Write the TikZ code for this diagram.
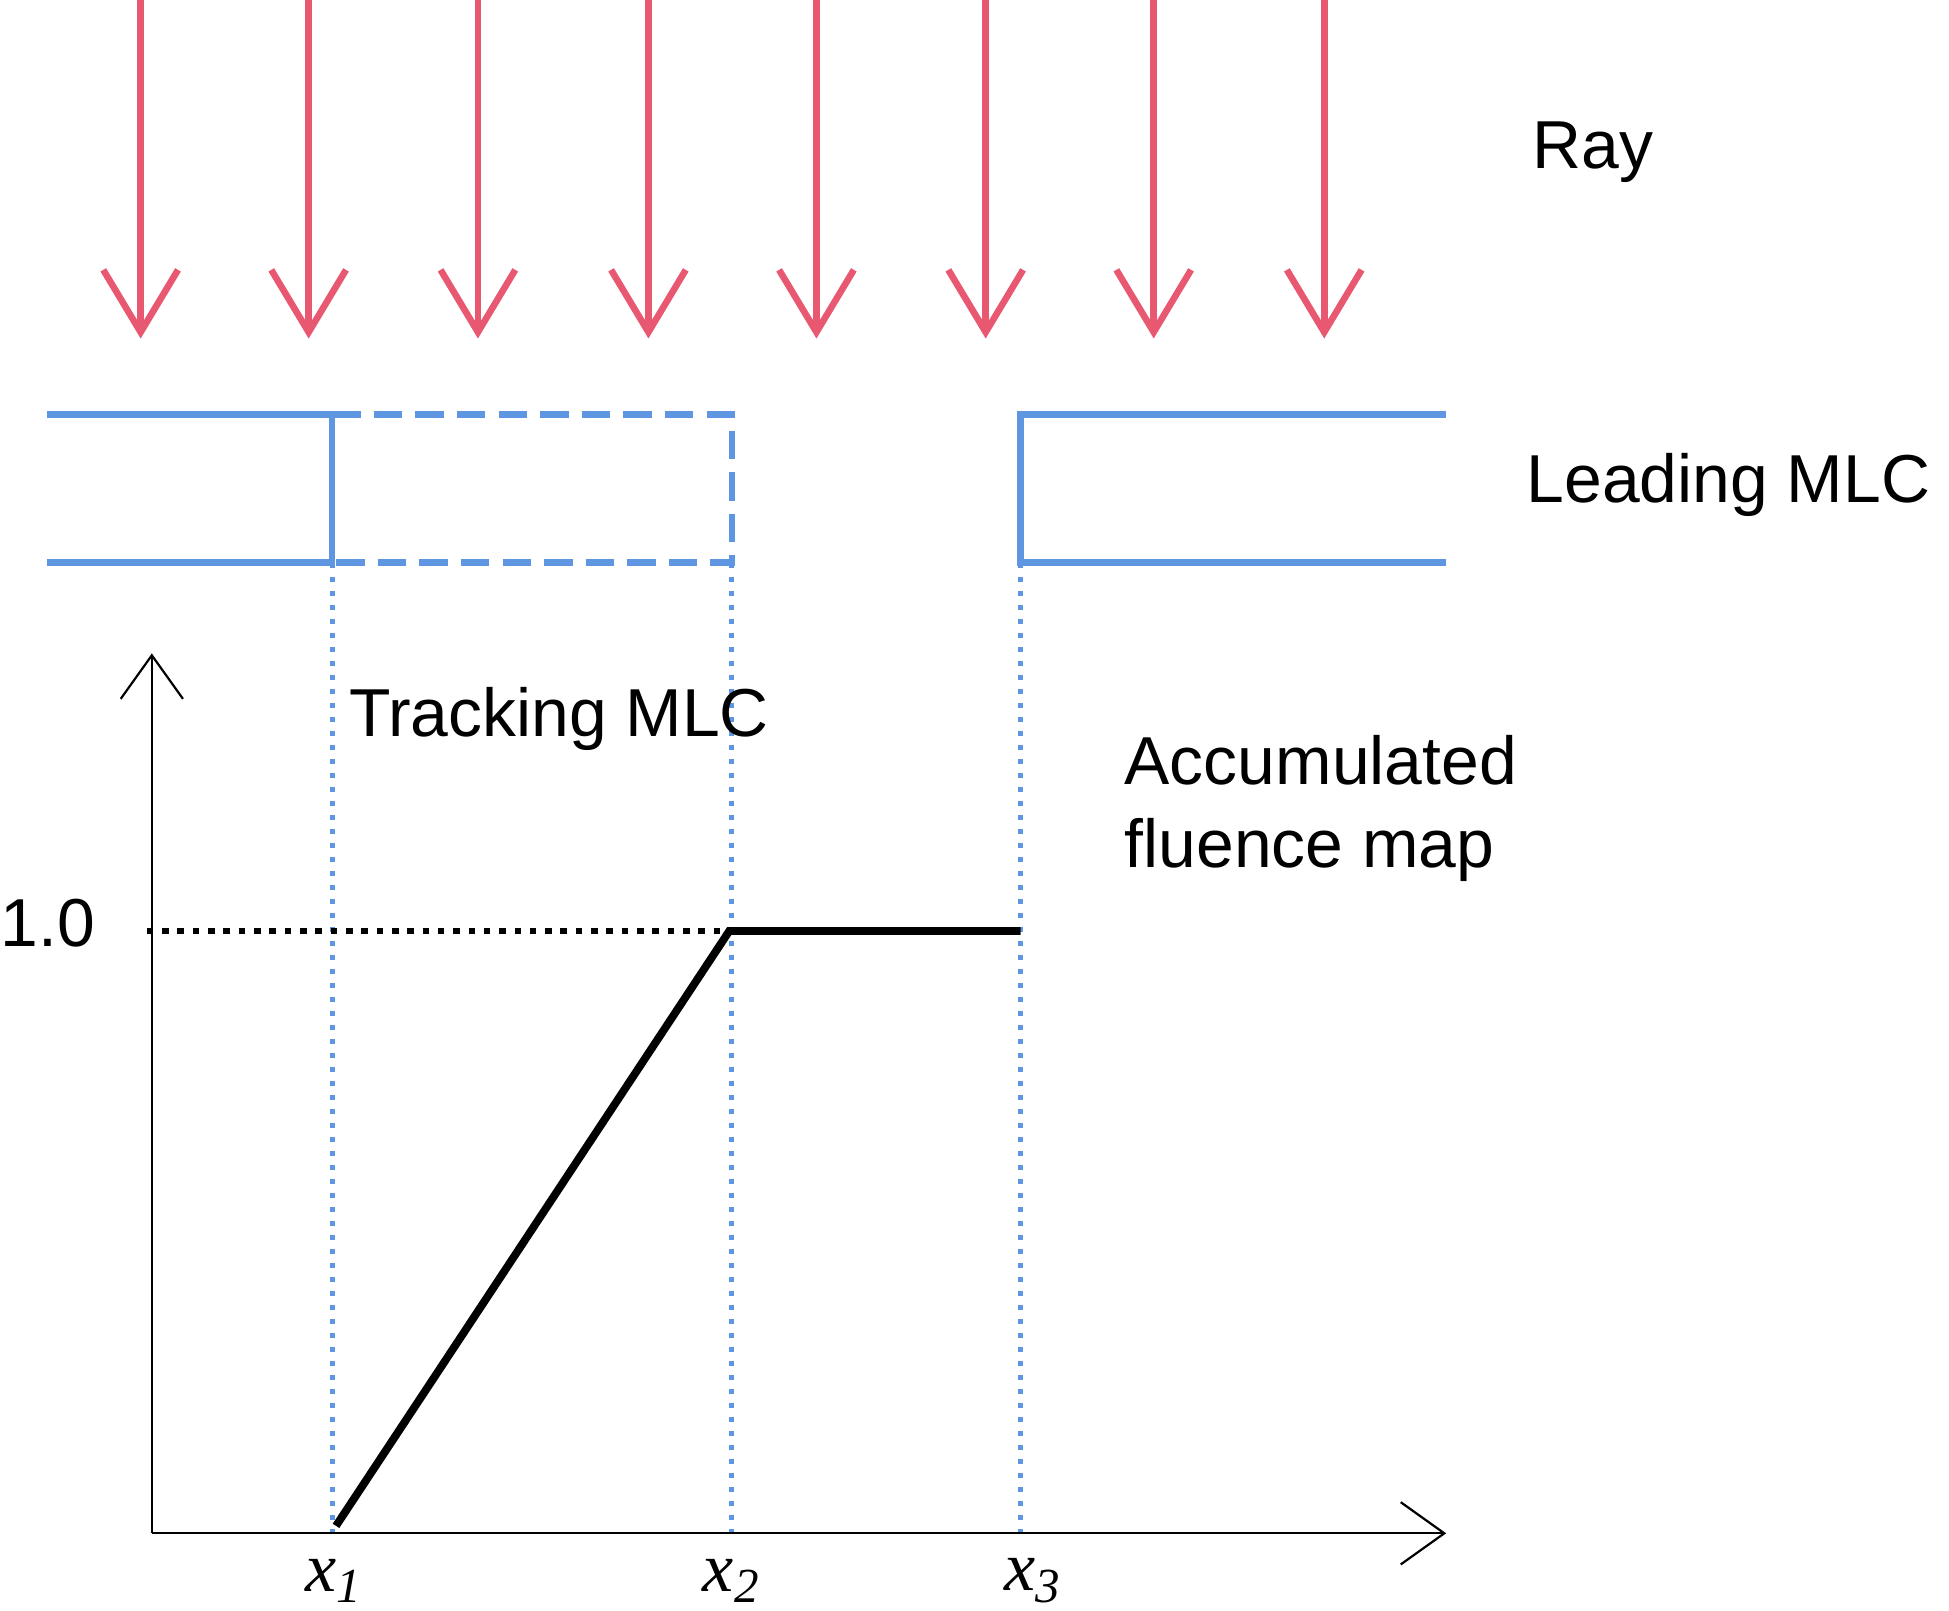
\documentclass[tikz,border=0pt]{standalone}
\usepackage{fontspec}
\setmainfont{Liberation Sans}
\newfontfamily\serifit{Liberation Serif}
\usetikzlibrary{arrows.meta}
\definecolor{rayred}{RGB}{232,88,112}
\definecolor{mlcblue}{RGB}{95,150,225}
\tikzset{
 ray/.style={draw=rayred,line width=1.5pt,-{Straight Barb[length=0.5cm,width=0.6cm,line width=1.5pt]}},
 mlc/.style={draw=mlcblue,line width=1.4pt},
 guide/.style={draw=mlcblue,line width=1.2pt,dotted},
 lbl/.style={font=\fontsize{15.5}{18}\selectfont,inner sep=0pt},
 xl/.style={font=\fontsize{16}{19}\selectfont\serifit\itshape,inner sep=0pt},
 axis/.style={draw=black,line width=0.5pt,-{Straight Barb[length=0.35cm,width=0.5cm]}}
}
\begin{document}
\begin{tikzpicture}[x=0.01cm,y=-0.01cm]
\useasboundingbox (0,0) rectangle (1566,1294);
\foreach \x [count=\i] in {113,248,384,521,656,792,927,1064}{
 \coordinate (rs\i) at (\x,0); \coordinate (re\i) at (\x,272);
 \draw[ray] (rs\i) -- (re\i);}
\node[lbl] (ray) at (1280,122) {Ray};
\draw[mlc] (38,333) -- (267,333) -- (267,452) -- (38,452);
\draw[mlc,dash pattern=on 6.5pt off 3pt] (267,333) -- (588,333) -- (588,452) -- (267,452);
\draw[mlc] (1162,333) -- (820,333) -- (820,452) -- (1162,452);
\node[lbl,anchor=west] (lead) at (1226,390) {Leading MLC};
\foreach \x in {267,588,820}{\draw[guide] (\x,452) -- (\x,1232);}
\coordinate (o) at (122,1232);
\draw[axis] (o) -- (122,525);
\draw[axis] (o) -- (1162,1232);
\node[lbl,anchor=west] (one) at (0,742) {1.0};
\draw[black,line width=1.5pt,dotted] (118,748) -- (585,748);
\draw[black,line width=1.8pt] (270,1226) -- (586,748) -- (820,748);
\node[lbl,anchor=west] (track) at (280,578) {Tracking MLC};
\node[lbl,anchor=north west,align=left] (acc) at (903,590) {Accumulated\\[1pt]fluence map};
\node[xl] (x1) at (269,1270) {x\textsubscript{1}};
\node[xl] (x2) at (588,1270) {x\textsubscript{2}};
\node[xl] (x3) at (830,1270) {x\textsubscript{3}};
\end{tikzpicture}
\end{document}
